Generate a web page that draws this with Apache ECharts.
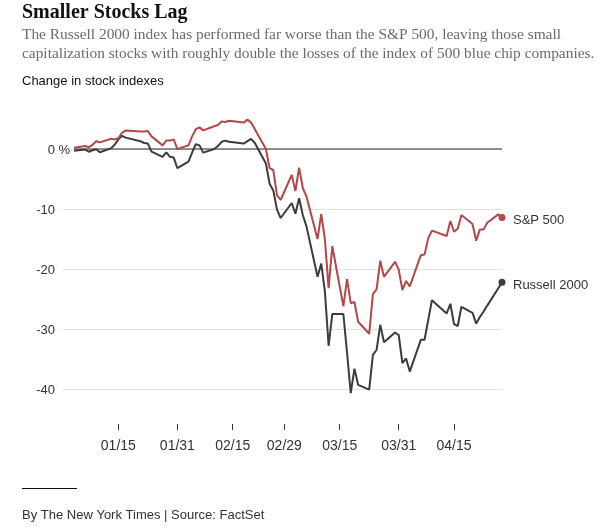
<!DOCTYPE html>
<html>
<head>
<meta charset="utf-8">
<script src="https://cdn.jsdelivr.net/npm/echarts@6/dist/echarts.min.js"></script>
<style>
  html, body { margin: 0; padding: 0; background: #fff; }
  #chart { width: 603px; height: 529px; }
</style>
</head>
<body>
<div id="chart"></div>
<script>
// trading days, change since Dec 31 2019 (%)
var dates = [
  '2020-01-03','2020-01-06','2020-01-07','2020-01-08','2020-01-09','2020-01-10','2020-01-13','2020-01-14','2020-01-15','2020-01-16','2020-01-17',
  '2020-01-21','2020-01-22','2020-01-23','2020-01-24','2020-01-27','2020-01-28','2020-01-29','2020-01-30','2020-01-31',
  '2020-02-03','2020-02-04','2020-02-05','2020-02-06','2020-02-07','2020-02-10','2020-02-11','2020-02-12','2020-02-13','2020-02-14',
  '2020-02-18','2020-02-19','2020-02-20','2020-02-21','2020-02-24','2020-02-25','2020-02-26','2020-02-27','2020-02-28',
  '2020-03-02','2020-03-03','2020-03-04','2020-03-05','2020-03-06',
  '2020-03-09','2020-03-10','2020-03-11','2020-03-12','2020-03-13',
  '2020-03-16','2020-03-17','2020-03-18','2020-03-19','2020-03-20',
  '2020-03-23','2020-03-24','2020-03-25','2020-03-26','2020-03-27',
  '2020-03-30','2020-03-31','2020-04-01','2020-04-02','2020-04-03',
  '2020-04-06','2020-04-07','2020-04-08','2020-04-09',
  '2020-04-13','2020-04-14','2020-04-15','2020-04-16','2020-04-17',
  '2020-04-20','2020-04-21','2020-04-22','2020-04-23','2020-04-24',
  '2020-04-27','2020-04-28'
];
var sp500 = [
  0.2, 0.5, 0.3, 0.7, 1.3, 1.1, 1.7, 1.6, 1.8, 2.7, 3.1,
  2.9, 2.9, 3.0, 2.1, 0.6, 1.4, 1.4, 1.6, 0.0,
  0.6, 2.1, 3.3, 3.6, 3.1, 3.8, 4.0, 4.6, 4.5, 4.7,
  4.4, 4.9, 4.4, 3.3, 0.0, -3.2, -3.5, -7.7, -8.5,
  -4.3, -7.0, -3.1, -6.5, -7.9,
  -15.0, -10.8, -15.1, -23.2, -16.2,
  -26.2, -21.7, -25.7, -25.5, -28.8,
  -30.8, -24.2, -23.4, -18.6, -21.3,
  -18.8, -20.1, -23.5, -22.0, -22.9,
  -17.7, -17.6, -14.9, -13.6,
  -14.5, -12.0, -13.8, -13.3, -11.0,
  -12.5, -15.3, -13.4, -13.4, -12.3,
  -10.9, -11.4
];
var russell2000 = [
  -0.3, -0.1, -0.45, -0.2, -0.05, -0.55, 0.1, 0.7, 1.6, 2.2, 1.9,
  1.3, 1.0, 0.9, -0.45, -1.3, -0.55, -1.3, -1.4, -3.2,
  -2.1, -0.6, 0.8, 0.6, -0.6, 0.0, 0.5, 1.2, 1.4, 1.2,
  0.9, 1.3, 1.7, 1.0, -2.4, -5.8, -6.9, -10.1, -11.5,
  -9.0, -10.8, -8.2, -11.0, -12.9,
  -21.3, -19.1, -23.8, -32.8, -27.5,
  -27.5, -34.0, -40.7, -36.6, -39.3,
  -40.1, -34.3, -33.5, -29.3, -32.2,
  -30.6, -31.0, -35.7, -34.9, -37.1,
  -31.8, -31.8, -28.5, -25.2,
  -27.4, -25.8, -29.2, -29.5, -26.3,
  -27.3, -29.1, -28.0, -27.1, -26.1,
  -23.2, -22.2
];
var xTickDates = ['2020-01-15','2020-01-31','2020-02-15','2020-02-29','2020-03-15','2020-03-31','2020-04-15'];
var seriesNames = ['S&P 500', 'Russell 2000'];
var axisStart = '2019-12-31';
var axisEnd = '2020-04-28';

var SANS = '"Liberation Sans", Arial, sans-serif';
var SERIF = '"Liberation Serif", "Times New Roman", serif';

function ts(d) { return +echarts.time.parse(d); }
function pairs(vals) {
  var out = [];
  for (var i = 0; i < vals.length; i++) out.push([ts(dates[i]), vals[i]]);
  return out;
}
function pad(n) { return n < 10 ? '0' + n : '' + n; }
function lastDot(v, p) { return p.dataIndex === dates.length - 1 ? 7 : 0; }

var tickValues = xTickDates.map(ts);

var chart = echarts.init(document.getElementById('chart'), null, { renderer: 'canvas' });

var option = {
  animation: false,
  grid: { left: 63, right: 101, top: 89, bottom: 80, outerBoundsMode: 'none' },
  xAxis: {
    type: 'value',
    min: ts(axisStart),
    max: ts(axisEnd),
    offset: -25,
    axisLine: { show: false, onZero: false },
    axisTick: {
      show: true,
      customValues: tickValues,
      length: 6,
      lineStyle: { color: '#333', width: 1 }
    },
    axisLabel: {
      customValues: tickValues,
      margin: 15,
      fontFamily: SANS,
      fontSize: 14,
      color: '#333',
      formatter: function (v) {
        var d = new Date(v);
        return pad(d.getMonth() + 1) + '/' + pad(d.getDate());
      }
    },
    splitLine: { show: false }
  },
  yAxis: {
    type: 'value',
    min: -50,
    max: 10,
    interval: 10,
    axisLine: { show: false },
    axisTick: { show: false },
    splitLine: {
      show: true,
      showMinLine: false,
      showMaxLine: false,
      lineStyle: { color: '#e0e0e0', width: 1 }
    },
    axisLabel: {
      margin: -7,
      align: 'right',
      padding: [3, 0, 0, 0],
      fontFamily: SANS,
      fontSize: 13,
      color: '#333',
      formatter: function (v) {
        if (v === -50 || v === 10) return '';
        if (v === 0) return '{n|0}{pz| %}';
        return '{n|' + v + '}{p| }';
      },
      rich: {
        n: { fontFamily: SANS, fontSize: 13, color: '#333' },
        p: { fontFamily: SANS, fontSize: 13, color: '#333', width: 15 },
        pz: { fontFamily: SANS, fontSize: 13, color: '#333', width: 15, backgroundColor: '#fff' }
      }
    }
  },
  series: [
    {
      name: 'zero',
      type: 'line',
      data: [[ts(dates[0]), 0], [ts(dates[dates.length - 1]), 0]],
      showSymbol: false,
      silent: true,
      lineStyle: { color: '#6e6e6e', width: 1.6 },
      z: 1
    },
    {
      name: seriesNames[0],
      type: 'line',
      data: pairs(sp500),
      symbol: 'circle',
      showSymbol: true,
      symbolSize: lastDot,
      itemStyle: { color: '#b4474a' },
      lineStyle: { color: '#b4474a', width: 2 },
      endLabel: {
        show: true,
        formatter: '{a}',
        distance: 11,
        offset: [0, 3],
        fontFamily: SANS,
        fontSize: 13,
        color: '#333'
      },
      z: 3
    },
    {
      name: seriesNames[1],
      type: 'line',
      data: pairs(russell2000),
      symbol: 'circle',
      showSymbol: true,
      symbolSize: lastDot,
      itemStyle: { color: '#3f3b38' },
      lineStyle: { color: '#3f3b38', width: 2 },
      endLabel: {
        show: true,
        formatter: '{a}',
        distance: 11,
        offset: [0, 3],
        fontFamily: SANS,
        fontSize: 13,
        color: '#333'
      },
      z: 2
    }
  ],
  graphic: [
    {
      type: 'text', left: 22, top: 3,
      style: { text: 'Smaller Stocks Lag', font: 'bold 20px ' + SERIF, fill: '#121212' }
    },
    {
      type: 'text', left: 22, top: 27.5,
      style: {
        text: 'The Russell 2000 index has performed far worse than the S&P 500, leaving those small',
        font: '15.4px ' + SERIF, fill: '#6b6b6b'
      }
    },
    {
      type: 'text', left: 22, top: 46,
      style: {
        text: 'capitalization stocks with roughly double the losses of the index of 500 blue chip companies.',
        font: '15.4px ' + SERIF, fill: '#6b6b6b'
      }
    },
    {
      type: 'text', left: 22, top: 74.5,
      style: { text: 'Change in stock indexes', font: '13px ' + SANS, fill: '#121212' }
    },
    {
      type: 'rect', left: 22, top: 488,
      shape: { width: 55, height: 1 },
      style: { fill: '#121212' }
    },
    {
      type: 'text', left: 22, top: 509,
      style: { text: 'By The New York Times | Source: FactSet', font: '13px ' + SANS, fill: '#333' }
    }
  ]
};

chart.setOption(option);
</script>
</body>
</html>
